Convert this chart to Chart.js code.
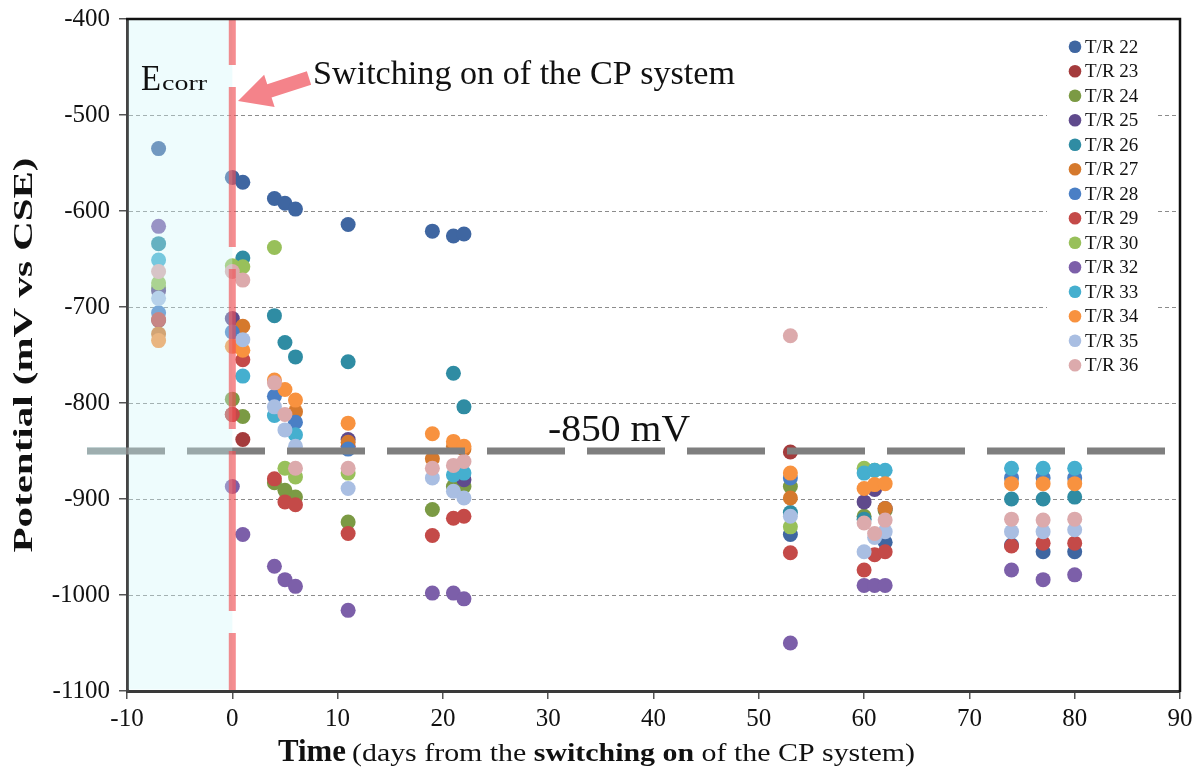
<!DOCTYPE html>
<html><head><meta charset="utf-8">
<script src="https://cdn.jsdelivr.net/npm/chart.js@4/dist/chart.umd.min.js"></script>
<style>html,body{margin:0;padding:0;background:#fff;overflow:hidden}canvas{display:block}</style>
</head><body>
<canvas id="c" width="1201" height="775"></canvas>
<script>
// ---- data ----
const days = [-7, 0, 1, 4, 5, 6, 11, 19, 21, 22, 53, 60, 61, 62, 74, 77, 80];
const seriesNames = ['T/R 22','T/R 23','T/R 24','T/R 25','T/R 26','T/R 27','T/R 28','T/R 29','T/R 30','T/R 32','T/R 33','T/R 34','T/R 35','T/R 36'];
const tr22 = [-535,-565,-570,-587,-592,-598,-614,-621,-626,-624,-937,null,null,-945,-948,-955,-955];
const tr23 = [-714,-812,-838,null,null,null,-845,null,null,null,-851,null,null,null,null,null,null];
const tr24 = [-680,-796,-814,-883,-891,-898,-924,-911,-887,-887,-887,-918,null,-912,null,null,null];
const tr25 = [-683,-712,null,null,null,null,-838,null,null,-880,null,-903,-890,-910,null,null,null];
const tr26 = [-634,null,-649,-709,-737,-752,-757,null,-769,-804,-914,-921,null,null,-900,-900,-898];
const tr27 = [-728,null,-720,null,null,-809,-841,-858,-845,-848,-899,null,null,-910,null,null,null];
const tr28 = [-706,-726,null,-793,null,-820,-848,null,null,null,-878,null,null,null,-878,-878,-878];
const tr29 = [-713,-812,-755,-879,-903,-906,-936,-938,-920,-918,-956,-974,-958,-955,-949,-946,-946];
const tr30 = [-675,-657,-658,-638,-868,-877,-873,null,null,null,-929,-868,-870,null,null,null,null];
const tr32 = [-616,-887,-937,-970,-984,-991,-1016,-998,-998,-1004,-1050,-990,-990,-990,-974,-984,-979];
const tr33 = [-651,null,-772,-813,null,-833,null,null,-875,-873,null,-873,-870,-870,-868,-868,-868];
const tr34 = [-735,-741,-745,-776,-786,-797,-821,-832,-840,-845,-873,-889,-885,-884,-884,-884,-884];
const tr35 = [-691,null,-734,-804,-828,-845,-889,-878,-892,-899,-918,-955,-940,-934,-934,-934,-932];
const tr36 = [-663,-663,-672,-779,-812,-868,-868,-868,-865,-861,-730,-925,-936,-922,-921,-922,-921];
const seriesValues = [tr22,tr23,tr24,tr25,tr26,tr27,tr28,tr29,tr30,tr32,tr33,tr34,tr35,tr36];
const seriesColors = ['#3f66a1','#a43b3c','#7b9a44','#5f4a8c','#2f8ca3','#d5792d','#4a7fc5','#c44a48','#98c05a','#7c5fa9','#45afcf','#f8923f','#a9bee2','#dcaaac'];
const xTicks = [-10,0,10,20,30,40,50,60,70,80,90];
const yTicks = [-400,-500,-600,-700,-800,-900,-1000,-1100];
const thresholdMV = -850;
const ecorrFrom = -10, switchDay = 0;

const SERIF = '"Liberation Serif", "Times New Roman", serif';

const datasets = seriesNames.map((name, i) => ({
  label: name,
  data: days.map((d, j) => seriesValues[i][j] == null ? null : {x: d, y: seriesValues[i][j]}).filter(Boolean),
  backgroundColor: seriesColors[i],
  borderWidth: 0,
  pointRadius: 7.5,
  pointHoverRadius: 7.5,
  order: seriesNames.length - i
}));

function fitText(ctx, text, font, x, y, width, align) {
  ctx.save();
  ctx.font = font;
  const w = ctx.measureText(text).width;
  const sx = width ? width / w : 1;
  ctx.translate(x, y);
  ctx.scale(sx, 1);
  ctx.textAlign = align || 'left';
  ctx.fillText(text, 0, 0);
  ctx.restore();
}

const decor = {
  id: 'decor',
  beforeDatasetsDraw(chart) {
    const {ctx, chartArea: a, scales: {y}} = chart;
    ctx.save();
    ctx.strokeStyle = '#8c8c8c';
    ctx.lineWidth = 1;
    ctx.setLineDash([4, 3]);
    yTicks.slice(1, -1).forEach(v => {
      const py = Math.round(y.getPixelForValue(v)) + 0.5;
      ctx.beginPath(); ctx.moveTo(a.left + 2, py); ctx.lineTo(a.right - 1, py); ctx.stroke();
    });
    ctx.setLineDash([]);
    ctx.fillStyle = '#fff';
    ctx.fillRect(1047, 30, 108, 348);
    ctx.restore();
  },
  afterDatasetsDraw(chart) {
    const {ctx, chartArea: a, scales: {x, y}} = chart;
    ctx.save();
    // -850 mV line
    const py = y.getPixelForValue(thresholdMV);
    ctx.strokeStyle = '#7f7f7f';
    ctx.lineWidth = 7;
    ctx.setLineDash([78, 22]);
    ctx.beginPath(); ctx.moveTo(87, py); ctx.lineTo(a.right - 1, py); ctx.stroke();
    ctx.setLineDash([]);
    ctx.fillStyle = 'rgba(205,246,248,0.4)';
    ctx.fillRect(87, py - 4, a.left - 88, 8);
    // Ecorr overlay
    const x0 = x.getPixelForValue(ecorrFrom), x1 = x.getPixelForValue(switchDay);
    ctx.fillStyle = 'rgba(205,246,248,0.35)';
    ctx.fillRect(x0 + 1.5, a.top, x1 - x0 - 1.5, a.bottom - a.top - 1.5);
    // switching-on vertical line
    ctx.strokeStyle = 'rgba(240,80,85,0.65)';
    ctx.lineWidth = 7;
    ctx.setLineDash([160, 22]);
    ctx.lineDashOffset = 114;
    ctx.beginPath(); ctx.moveTo(x1, a.top); ctx.lineTo(x1, a.bottom - 1); ctx.stroke();
    ctx.setLineDash([]);
    ctx.lineDashOffset = 0;
    // arrow
    const tip = {x: 238, y: 101}, tail = {x: 309, y: 78};
    const dx = tail.x - tip.x, dy = tail.y - tip.y, L = Math.hypot(dx, dy);
    const ux = dx / L, uy = dy / L, nx = -uy, ny = ux;
    const hl = 33, hw = 17, sw = 7;
    const bx = tip.x + ux * hl, by = tip.y + uy * hl;
    ctx.fillStyle = '#f4838a';
    ctx.beginPath();
    ctx.moveTo(tip.x, tip.y);
    ctx.lineTo(bx + nx * hw, by + ny * hw);
    ctx.lineTo(bx + nx * sw, by + ny * sw);
    ctx.lineTo(tail.x + nx * sw, tail.y + ny * sw);
    ctx.lineTo(tail.x - nx * sw, tail.y - ny * sw);
    ctx.lineTo(bx - nx * sw, by - ny * sw);
    ctx.lineTo(bx - nx * hw, by - ny * hw);
    ctx.closePath(); ctx.fill();
    // frame top/right
    ctx.strokeStyle = '#111';
    ctx.lineWidth = 2.5;
    ctx.beginPath();
    ctx.moveTo(a.left - 1, a.top); ctx.lineTo(a.right, a.top); ctx.lineTo(a.right, a.bottom + 1);
    ctx.stroke();
    // texts
    ctx.fillStyle = '#111';
    ctx.textBaseline = 'alphabetic';
    fitText(ctx, 'Switching on of the CP system', '34px ' + SERIF, 313, 84, 422);
    fitText(ctx, '-850 mV', '37px ' + SERIF, 548, 441, 142);
    ctx.textAlign = 'left';
    fitText(ctx, 'E', '35px ' + SERIF, 141, 90, 20);
    fitText(ctx, 'corr', '22px ' + SERIF, 162, 90, 45);
    // legend
    ctx.textBaseline = 'middle';
    seriesNames.forEach((n, i) => {
      const ly = 46.7 + i * 24.5;
      ctx.fillStyle = seriesColors[i];
      ctx.beginPath(); ctx.arc(1075, ly, 6.3, 0, Math.PI * 2); ctx.fill();
      ctx.fillStyle = '#111';
      ctx.font = '19px ' + SERIF;
      ctx.textAlign = 'left';
      ctx.fillText(n, 1085, ly + 1);
    });
    ctx.restore();
  },
  afterDraw(chart) {
    const {ctx} = chart;
    ctx.save();
    ctx.fillStyle = '#111';
    ctx.textBaseline = 'alphabetic';
    fitText(ctx, 'Time', 'bold 32px ' + SERIF, 278, 761, 68);
    const parts = [
      {t: '(days from the ', f: '25px ' + SERIF},
      {t: 'switching on', f: 'bold 25px ' + SERIF},
      {t: ' of the CP system)', f: '25px ' + SERIF}
    ];
    let W = 0;
    parts.forEach(p => { ctx.font = p.f; p.w = ctx.measureText(p.t).width; W += p.w; });
    const sx = (915 - 352) / W;
    ctx.translate(352, 761);
    ctx.scale(sx, 1);
    let cx = 0;
    parts.forEach(p => { ctx.font = p.f; ctx.fillText(p.t, cx, 0); cx += p.w; });
    ctx.restore();
    // y title
    ctx.save();
    ctx.fillStyle = '#111';
    ctx.translate(32, 355);
    ctx.rotate(-Math.PI / 2);
    ctx.font = 'bold 27px ' + SERIF;
    const t = 'Potential (mV vs CSE)';
    const w = ctx.measureText(t).width;
    ctx.scale(395 / w, 1);
    ctx.textAlign = 'center';
    ctx.fillText(t, 0, 0);
    ctx.restore();
  }
};

new Chart(document.getElementById('c'), {
  type: 'scatter',
  data: {datasets},
  options: {
    responsive: false,
    animation: false,
    devicePixelRatio: 1,
    layout: {padding: {top: 19, right: 21, left: 0, bottom: 0}},
    plugins: {legend: {display: false}, tooltip: {enabled: false}},
    scales: {
      x: {
        type: 'linear', min: xTicks[0], max: xTicks[xTicks.length - 1],
        afterBuildTicks: s => { s.ticks = xTicks.map(v => ({value: v})); },
        afterFit: s => { s.height = 84; s.paddingLeft = 0; s.paddingRight = 0; },
        ticks: {font: {family: SERIF, size: 25}, color: '#111', padding: 5, callback: v => String(v)},
        grid: {drawOnChartArea: false, drawTicks: true, tickLength: 8, color: '#555', lineWidth: 1.5},
        border: {display: true, color: '#3a3a3a', width: 3}
      },
      y: {
        min: yTicks[yTicks.length - 1], max: yTicks[0],
        afterBuildTicks: s => { s.ticks = yTicks.map(v => ({value: v})); },
        afterFit: s => { s.width = 127; s.paddingTop = 0; s.paddingBottom = 0; },
        ticks: {font: {family: SERIF, size: 25}, color: '#111', padding: 9, callback: v => String(v)},
        grid: {drawOnChartArea: false, drawTicks: true, tickLength: 8, color: '#555', lineWidth: 1.5},
        border: {display: true, color: '#444', width: 3}
      }
    }
  },
  plugins: [decor]
});
</script>
</body></html>
